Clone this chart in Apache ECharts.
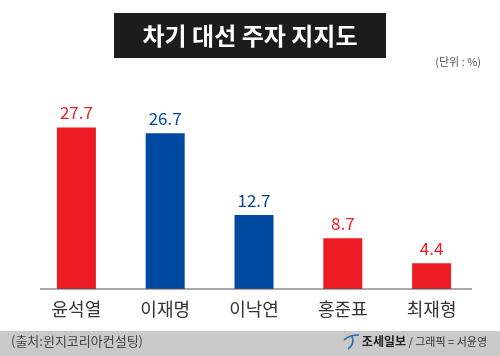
<!DOCTYPE html>
<html><head><meta charset="utf-8">
<script src="https://cdn.jsdelivr.net/npm/echarts@6/dist/echarts.min.js"></script>
<style>html,body{margin:0;padding:0;background:#fff}#c{width:500px;height:356px}</style>
</head><body><div id="c"></div>
<script>
const categories = ['윤석열', '이재명', '이낙연', '홍준표', '최재형'];
const values = [27.7, 26.7, 12.7, 8.7, 4.4];
const barColors = ['#ed1c24', '#0049a0', '#0049a0', '#ed1c24', '#ed1c24'];
const titleText = '차기 대선 주자 지지도';
const unitText = '(단위 : %)';
const sourceText = '(출처:윈지코리아컨설팅)';
const creditBrand = '조세일보';
const creditText = ' / 그래픽 = 서윤영';

const FONT = '"Noto Sans CJK KR", "Noto Sans", sans-serif';
const chart = echarts.init(document.getElementById('c'), null, {renderer: 'canvas'});
chart.setOption({
  animation: false,
  backgroundColor: '#fff',
  grid: {left: 32, right: 24, top: 114, bottom: 67, containLabel: false},
  xAxis: {
    type: 'category', data: categories,
    axisLine: {show: false}, axisTick: {show: false},
    axisLabel: {color: '#333', fontSize: 18, fontFamily: FONT, margin: 11}
  },
  yAxis: {type: 'value', min: 0, max: 30, show: false, splitLine: {show: false}},
  series: [{
    type: 'bar', barWidth: 39,
    data: values.map((v, i) => ({value: v, itemStyle: {color: barColors[i]},
      label: {color: barColors[i]}})),
    label: {show: true, position: 'top', distance: 6, fontSize: 17, fontFamily: FONT}
  }],
  graphic: [
    {type: 'line', shape: {x1: 40, y1: 289, x2: 472, y2: 289}, style: {stroke: '#555', lineWidth: 1}, z: 10},
    {type: 'rect', shape: {x: 114, y: 13, width: 272, height: 45}, style: {fill: '#1c1c1c'}},
    {type: 'text', x: 250, y: 35.5, style: {text: titleText, fill: '#fff', fontSize: 24, fontWeight: 'bold',
      fontFamily: FONT, align: 'center', verticalAlign: 'middle'}},
    {type: 'text', x: 481, y: 62, style: {text: unitText, fill: '#555', fontSize: 11, fontFamily: FONT,
      align: 'right', verticalAlign: 'middle'}},
    {type: 'rect', shape: {x: 0, y: 331, width: 500, height: 25}, style: {fill: '#c9c9c9'}},
    {type: 'text', x: 11, y: 341.5, style: {text: sourceText, fill: '#444', fontSize: 13, fontFamily: FONT,
      verticalAlign: 'middle'}},
    {type: 'bezierCurve', shape: {x1: 344, y1: 340, x2: 359, y2: 335, cpx1: 349, cpy1: 335},
      style: {stroke: '#2a6db5', lineWidth: 1.6, fill: null}},
    {type: 'bezierCurve', shape: {x1: 352, y1: 336, x2: 348, y2: 349, cpx1: 355, cpy1: 344},
      style: {stroke: '#2a6db5', lineWidth: 1.6, fill: null}},
    {type: 'text', x: 487, y: 341.5, style: {
      text: '{b|' + creditBrand + '}{n|' + creditText + '}', align: 'right', verticalAlign: 'middle',
      rich: {b: {fontSize: 12, fontWeight: 'bold', fill: '#222', fontFamily: FONT},
             n: {fontSize: 11, fill: '#333', fontFamily: FONT}}}}
  ]
});
</script></body></html>
